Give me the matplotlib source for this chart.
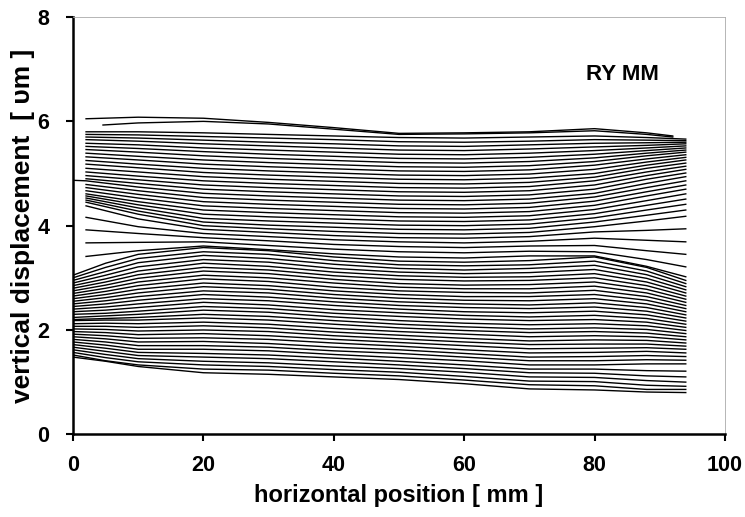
import numpy as np
import matplotlib.pyplot as plt

plt.rcParams['font.family'] = ['Liberation Sans', 'DejaVu Sans']
plt.rcParams['font.weight'] = 'bold'

# upper bundle: lines start near x=2, values at stations x0,10,20,...,80,88,x1
up_mid = [10, 20, 30, 40, 50, 60, 70, 80, 88]
up_x0 = [2, 4.6] + [2] * 29
up_x1 = [92, 92] + [94] * 29
upper = [
    [6.05, 6.08, 6.06, 5.98, 5.88, 5.77, 5.78, 5.80, 5.86, 5.78, 5.72],
    [5.93, 5.97, 6.00, 5.95, 5.85, 5.75, 5.76, 5.78, 5.82, 5.75, 5.70],
    [5.80, 5.80, 5.78, 5.75, 5.72, 5.69, 5.68, 5.70, 5.72, 5.69, 5.66],
    [5.75, 5.74, 5.71, 5.68, 5.65, 5.61, 5.60, 5.62, 5.65, 5.64, 5.63],
    [5.70, 5.68, 5.64, 5.60, 5.57, 5.53, 5.52, 5.55, 5.58, 5.59, 5.60],
    [5.65, 5.62, 5.57, 5.53, 5.49, 5.45, 5.44, 5.47, 5.51, 5.54, 5.57],
    [5.58, 5.55, 5.49, 5.45, 5.41, 5.37, 5.36, 5.39, 5.44, 5.49, 5.53],
    [5.52, 5.48, 5.42, 5.37, 5.33, 5.29, 5.28, 5.31, 5.37, 5.44, 5.49],
    [5.46, 5.41, 5.34, 5.29, 5.25, 5.21, 5.20, 5.23, 5.30, 5.39, 5.45],
    [5.39, 5.33, 5.26, 5.21, 5.17, 5.13, 5.12, 5.15, 5.23, 5.34, 5.41],
    [5.32, 5.26, 5.18, 5.13, 5.09, 5.05, 5.04, 5.07, 5.16, 5.28, 5.36],
    [5.25, 5.18, 5.10, 5.05, 5.01, 4.97, 4.96, 4.99, 5.08, 5.22, 5.31],
    [5.18, 5.11, 5.02, 4.97, 4.93, 4.89, 4.88, 4.91, 5.00, 5.16, 5.26],
    [5.10, 5.03, 4.94, 4.89, 4.85, 4.81, 4.80, 4.83, 4.93, 5.10, 5.20],
    [5.03, 4.95, 4.86, 4.81, 4.77, 4.73, 4.72, 4.75, 4.86, 5.03, 5.14],
    [4.96, 4.88, 4.78, 4.73, 4.69, 4.65, 4.64, 4.67, 4.78, 4.96, 5.08],
    [4.90, 4.81, 4.70, 4.65, 4.61, 4.57, 4.56, 4.59, 4.70, 4.89, 5.01],
    [4.86, 4.74, 4.62, 4.57, 4.53, 4.49, 4.48, 4.51, 4.62, 4.81, 4.94],
    [4.79, 4.67, 4.54, 4.49, 4.45, 4.41, 4.40, 4.43, 4.55, 4.73, 4.86],
    [4.73, 4.60, 4.46, 4.41, 4.37, 4.33, 4.32, 4.35, 4.47, 4.65, 4.78],
    [4.67, 4.53, 4.38, 4.33, 4.29, 4.25, 4.24, 4.27, 4.39, 4.57, 4.70],
    [4.61, 4.46, 4.30, 4.25, 4.21, 4.17, 4.16, 4.19, 4.31, 4.48, 4.61],
    [4.57, 4.40, 4.22, 4.17, 4.13, 4.09, 4.08, 4.11, 4.23, 4.39, 4.51],
    [4.53, 4.34, 4.14, 4.09, 4.05, 4.01, 4.00, 4.03, 4.15, 4.30, 4.41],
    [4.49, 4.28, 4.07, 4.01, 3.97, 3.93, 3.92, 3.95, 4.07, 4.20, 4.30],
    [4.45, 4.22, 4.00, 3.94, 3.89, 3.85, 3.84, 3.87, 3.98, 4.09, 4.18],
    [4.38, 4.13, 3.93, 3.87, 3.81, 3.77, 3.76, 3.79, 3.88, 3.91, 3.94],
    [4.16, 3.98, 3.85, 3.79, 3.73, 3.69, 3.67, 3.70, 3.76, 3.72, 3.69],
    [3.92, 3.85, 3.77, 3.71, 3.64, 3.60, 3.58, 3.61, 3.62, 3.52, 3.45],
    [3.67, 3.68, 3.69, 3.62, 3.55, 3.50, 3.48, 3.51, 3.50, 3.35, 3.21],
    [3.41, 3.52, 3.61, 3.54, 3.46, 3.40, 3.38, 3.42, 3.42, 3.22, 3.02],
]
lead_in = (0, 4.87)  # one line of the upper bundle begins on the axis
lead_line = 17

# lower bundle: lines start on the axis
lo_x = [0, 5, 10, 20, 30, 40, 50, 60, 70, 80, 88, 94]
lower = [
    [3.05, 3.28, 3.45, 3.58, 3.52, 3.40, 3.32, 3.30, 3.33, 3.40, 3.20, 2.95],
    [3.00, 3.20, 3.37, 3.50, 3.45, 3.33, 3.25, 3.23, 3.25, 3.32, 3.13, 2.89],
    [2.95, 3.12, 3.29, 3.43, 3.37, 3.26, 3.18, 3.15, 3.18, 3.24, 3.06, 2.83],
    [2.90, 3.05, 3.21, 3.35, 3.30, 3.18, 3.11, 3.08, 3.10, 3.16, 2.99, 2.77],
    [2.85, 2.98, 3.13, 3.28, 3.22, 3.11, 3.04, 3.01, 3.02, 3.08, 2.92, 2.71],
    [2.80, 2.92, 3.06, 3.20, 3.15, 3.04, 2.97, 2.94, 2.95, 3.00, 2.85, 2.65],
    [2.75, 2.86, 2.99, 3.13, 3.08, 2.97, 2.89, 2.86, 2.87, 2.92, 2.78, 2.59],
    [2.70, 2.80, 2.92, 3.05, 3.00, 2.90, 2.82, 2.79, 2.79, 2.84, 2.71, 2.53],
    [2.65, 2.74, 2.85, 2.98, 2.93, 2.82, 2.75, 2.72, 2.71, 2.76, 2.64, 2.47],
    [2.60, 2.68, 2.78, 2.90, 2.85, 2.75, 2.68, 2.64, 2.64, 2.68, 2.57, 2.41],
    [2.55, 2.62, 2.71, 2.83, 2.78, 2.68, 2.61, 2.57, 2.56, 2.60, 2.50, 2.35],
    [2.50, 2.56, 2.64, 2.75, 2.71, 2.61, 2.54, 2.50, 2.48, 2.52, 2.43, 2.29],
    [2.45, 2.50, 2.57, 2.68, 2.63, 2.54, 2.47, 2.43, 2.41, 2.44, 2.36, 2.23],
    [2.40, 2.44, 2.50, 2.60, 2.56, 2.47, 2.40, 2.35, 2.33, 2.36, 2.29, 2.17],
    [2.35, 2.38, 2.43, 2.53, 2.48, 2.39, 2.33, 2.28, 2.25, 2.28, 2.22, 2.11],
    [2.30, 2.32, 2.36, 2.45, 2.41, 2.32, 2.26, 2.21, 2.18, 2.20, 2.15, 2.05],
    [2.24, 2.27, 2.30, 2.38, 2.34, 2.25, 2.18, 2.13, 2.10, 2.12, 2.08, 1.99],
    [2.20, 2.22, 2.24, 2.30, 2.26, 2.18, 2.11, 2.06, 2.02, 2.04, 2.01, 1.93],
    [2.18, 2.19, 2.19, 2.23, 2.19, 2.11, 2.04, 1.99, 1.95, 1.97, 1.94, 1.87],
    [2.12, 2.13, 2.12, 2.15, 2.11, 2.03, 1.97, 1.92, 1.87, 1.89, 1.87, 1.81],
    [2.07, 2.07, 2.05, 2.08, 2.04, 1.96, 1.90, 1.84, 1.79, 1.81, 1.80, 1.75],
    [2.02, 2.01, 1.98, 2.00, 1.97, 1.89, 1.83, 1.77, 1.72, 1.73, 1.73, 1.69],
    [1.97, 1.95, 1.91, 1.93, 1.89, 1.82, 1.76, 1.70, 1.64, 1.65, 1.66, 1.63],
    [1.92, 1.89, 1.84, 1.85, 1.82, 1.75, 1.69, 1.62, 1.56, 1.57, 1.59, 1.56],
    [1.87, 1.83, 1.77, 1.78, 1.74, 1.67, 1.62, 1.55, 1.48, 1.49, 1.51, 1.49],
    [1.82, 1.77, 1.70, 1.70, 1.67, 1.60, 1.55, 1.48, 1.41, 1.41, 1.43, 1.42],
    [1.77, 1.71, 1.63, 1.63, 1.60, 1.53, 1.47, 1.41, 1.33, 1.33, 1.35, 1.35],
    [1.72, 1.65, 1.57, 1.55, 1.52, 1.46, 1.40, 1.33, 1.25, 1.25, 1.22, 1.21],
    [1.67, 1.59, 1.51, 1.48, 1.45, 1.39, 1.33, 1.26, 1.18, 1.17, 1.12, 1.10],
    [1.62, 1.53, 1.45, 1.40, 1.37, 1.31, 1.26, 1.19, 1.10, 1.09, 1.03, 1.00],
    [1.57, 1.47, 1.39, 1.33, 1.30, 1.24, 1.19, 1.11, 1.02, 1.01, 0.94, 0.92],
    [1.52, 1.41, 1.33, 1.25, 1.23, 1.17, 1.12, 1.04, 0.95, 0.93, 0.86, 0.86],
    [1.48, 1.40, 1.30, 1.18, 1.15, 1.10, 1.05, 0.97, 0.87, 0.85, 0.81, 0.80],
]

fig = plt.figure(figsize=(7.45, 5.17), dpi=100)
ax = fig.add_axes([0.098, 0.160, 0.875, 0.807])

for i, row in enumerate(upper):
    xs = [up_x0[i]] + up_mid + [up_x1[i]]
    ys = list(row)
    if i == lead_line:
        xs = [lead_in[0]] + xs
        ys = [lead_in[1]] + ys
    ax.plot(xs, ys, color='black', lw=1.0)

for row in lower:
    ax.plot(lo_x, row, color='black', lw=1.0)

ax.text(84.3, 6.9, 'RY MM', fontsize=16, fontweight='bold', ha='center', va='center')

ax.set_xlim(0, 100)
ax.set_ylim(0, 8)
ax.set_xticks([0, 20, 40, 60, 80, 100])
ax.set_yticks([0, 2, 4, 6, 8])
ax.tick_params(direction='out', length=5, width=1.5, labelsize=15.5)
ax.tick_params(axis='x', pad=10)
ax.tick_params(axis='y', pad=12)
for s in ['left', 'bottom']:
    ax.spines[s].set_linewidth(1.8)
for s in ['top', 'right']:
    ax.spines[s].set_linewidth(0.6)
    ax.spines[s].set_color('#aaaaaa')
ax.set_xlabel('horizontal position [ mm ]', fontsize=17, fontweight='bold', labelpad=6)
ax.set_ylabel('vertical displacement  [ υm ]', fontsize=19, fontweight='bold', labelpad=2)

fig.savefig('out.png', dpi=100)
